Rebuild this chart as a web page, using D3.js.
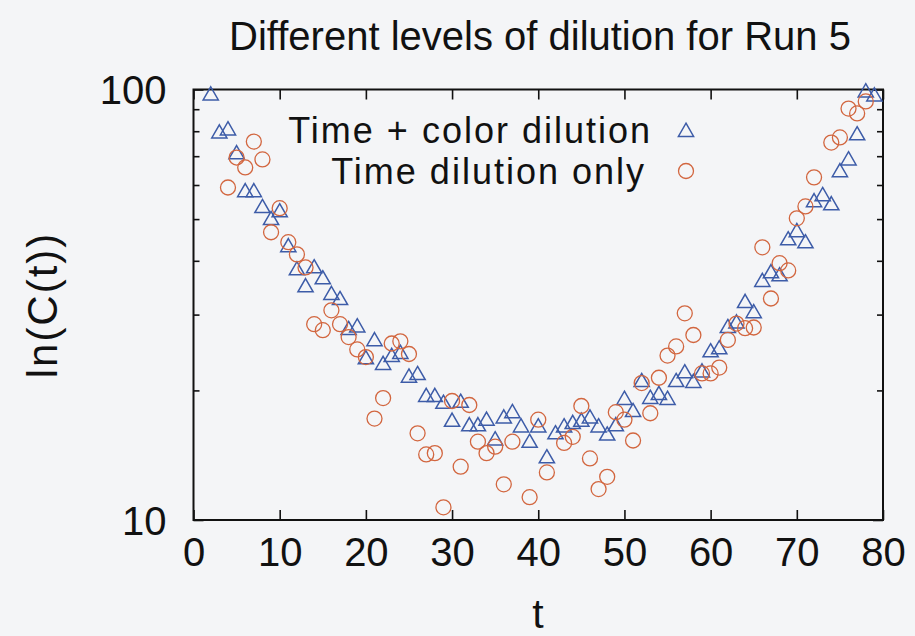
<!DOCTYPE html>
<html>
<head>
<meta charset="utf-8">
<script src="https://cdn.jsdelivr.net/npm/d3@7"></script>
<style>
  html, body { margin: 0; padding: 0; background: #f4f5f7; }
  svg { display: block; }
  text { font-family: "Liberation Sans", Arial, Helvetica, sans-serif; fill: #111; }
</style>
</head>
<body>
<svg id="chart" width="915" height="636"></svg>
<script>
const title = "Different levels of dilution for Run 5";
const xLabel = "t";
const yLabel = "ln(C(t))";
const xTicks = [0, 10, 20, 30, 40, 50, 60, 70, 80];
const yMajorTicks = [10, 100];
const yMinorTicks = [20, 30, 40, 50, 60, 70, 80, 90];
const seriesNames = ["Time + color dilution", "Time dilution only"];

// Time + color dilution (triangles)
const tColor = [2,3,4,5,6,7,8,9,10,11,12,13,14,15,16,17,18,19,20,21,22,23,24,25,26,27,28,29,30,31,32,33,34,35,36,37,38,39,40,41,42,43,44,45,46,47,48,49,50,51,52,53,54,55,56,57,58,59,60,61,62,63,64,65,66,67,68,69,70,71,72,73,74,75,76,77,78,79];
const vColor = [96.8,79.0,80.3,70.7,57.7,57.7,53.0,49.7,51.8,43.0,38.0,34.7,38.4,36.2,33.3,32.4,27.6,28.0,23.6,26.0,22.9,23.9,24.3,21.4,21.7,19.3,19.3,18.6,16.9,18.7,16.5,16.5,17.0,15.3,17.2,17.7,16.4,15.1,16.4,13.9,15.8,16.4,16.7,16.9,17.2,16.4,15.7,16.5,19.0,17.8,20.9,19.1,19.5,19.0,20.9,21.9,20.8,22.0,24.5,24.9,27.9,28.6,31.9,30.2,35.7,37.4,36.8,44.6,46.6,43.9,54.7,56.5,53.8,64.2,68.4,78.2,98.4,96.3];

// Time dilution only (circles)
const tTime = [4,5,6,7,8,9,10,11,12,13,14,15,16,17,18,19,20,21,22,23,24,25,26,27,28,29,30,31,32,33,34,35,36,37,39,40,41,43,44,45,46,47,48,49,50,51,52,53,54,55,56,57,58,59,60,61,62,63,64,65,66,67,68,69,70,71,72,74,75,76,77,78];
const vTime = [59.2,69.5,65.9,75.7,68.8,46.6,53.0,44.2,41.4,38.6,28.5,27.6,30.7,28.5,26.6,24.9,23.9,17.2,19.2,25.7,26.0,24.3,15.9,14.2,14.3,10.7,18.9,13.3,18.5,15.2,14.3,14.8,12.1,15.2,11.3,17.1,12.9,15.1,15.6,18.4,13.9,11.8,12.6,17.8,17.1,15.3,20.8,17.7,21.4,24.1,25.3,30.2,26.9,21.9,21.9,22.6,26.2,28.6,27.9,28.0,43.0,32.7,39.5,38.0,50.2,53.5,62.5,75.3,77.4,90.3,88.0,93.8];

const blue = "#3d5ca8";
const orange = "#d2663f";

const svg = d3.select("#chart");
const L = 193.5, R = 883, T = 89.5, B = 520;
const x = d3.scaleLinear().domain([0, 80]).range([L, R]);
const y = d3.scaleLog().domain([10, 100]).range([B, T]);

// title
svg.append("text").attr("x", 540).attr("y", 50).attr("text-anchor", "middle")
  .style("font-size", "40px").text(title);

// axis labels
svg.append("text").attr("x", 538).attr("y", 628).attr("text-anchor", "middle")
  .style("font-size", "41px").text(xLabel);
svg.append("text").attr("transform", "translate(57,305) rotate(-90)")
  .attr("text-anchor", "middle").style("font-size", "42px").style("letter-spacing", "2px").text(yLabel);

// axes via d3
const gx = svg.append("g").attr("transform", `translate(0,${B})`)
  .call(d3.axisBottom(x).tickValues(xTicks).tickSize(-10).tickPadding(14).tickFormat(d3.format("d")));
const gxTop = svg.append("g").attr("transform", `translate(0,${T})`)
  .call(d3.axisTop(x).tickValues(xTicks).tickSize(-10).tickFormat(""));
const gy = svg.append("g").attr("transform", `translate(${L},0)`)
  .call(d3.axisLeft(y).tickValues(yMajorTicks).tickSize(-10).tickPadding(27).tickFormat(d3.format("d")));
const gyMinor = svg.append("g").attr("transform", `translate(${L},0)`)
  .call(d3.axisLeft(y).tickValues(yMinorTicks).tickSize(-6).tickFormat(""));
const gyR = svg.append("g").attr("transform", `translate(${R},0)`)
  .call(d3.axisRight(y).tickValues(yMajorTicks).tickSize(-10).tickFormat(""));
const gyRMinor = svg.append("g").attr("transform", `translate(${R},0)`)
  .call(d3.axisRight(y).tickValues(yMinorTicks).tickSize(-6).tickFormat(""));

svg.selectAll(".domain").remove();
svg.selectAll(".tick line").attr("stroke", "#111").attr("stroke-width", 1.6);
svg.selectAll(".tick text").style("font-size", "40px").attr("fill", "#111")
  .style("font-family", "'Liberation Sans', Arial, sans-serif");
gx.selectAll(".tick text").attr("dy", "0.8em");
gy.selectAll(".tick text").attr("dy", "0.36em");

// frame
svg.append("rect").attr("x", L).attr("y", T).attr("width", R - L).attr("height", B - T)
  .attr("fill", "none").attr("stroke", "#111").attr("stroke-width", 2);

const tri = d3.symbol().type(d3.symbolTriangle).size(100);

// points
const plot = svg.append("g");
plot.selectAll("path.tri").data(tColor.map((t, i) => ({t, v: vColor[i]})))
  .join("path").attr("class", "tri")
  .attr("d", tri)
  .attr("transform", d => `translate(${x(d.t)},${y(d.v)})`)
  .attr("fill", "none").attr("stroke", blue).attr("stroke-width", 1.5);

plot.selectAll("circle.circ").data(tTime.map((t, i) => ({t, v: vTime[i]})))
  .join("circle").attr("class", "circ")
  .attr("cx", d => x(d.t)).attr("cy", d => y(d.v)).attr("r", 7.5)
  .attr("fill", "none").attr("stroke", orange).attr("stroke-width", 1.3);

// legend
const legend = svg.append("g");
legend.append("text").attr("x", 652).attr("y", 143).attr("text-anchor", "end")
  .style("font-size", "36px").style("letter-spacing", "2px").text(seriesNames[0]);
legend.append("path").attr("d", tri).attr("transform", "translate(686,132)")
  .attr("fill", "none").attr("stroke", blue).attr("stroke-width", 1.5);
legend.append("text").attr("x", 646).attr("y", 184).attr("text-anchor", "end")
  .style("font-size", "36px").style("letter-spacing", "2px").text(seriesNames[1]);
legend.append("circle").attr("cx", 686).attr("cy", 171).attr("r", 7.5)
  .attr("fill", "none").attr("stroke", orange).attr("stroke-width", 1.3);
</script>
</body>
</html>
